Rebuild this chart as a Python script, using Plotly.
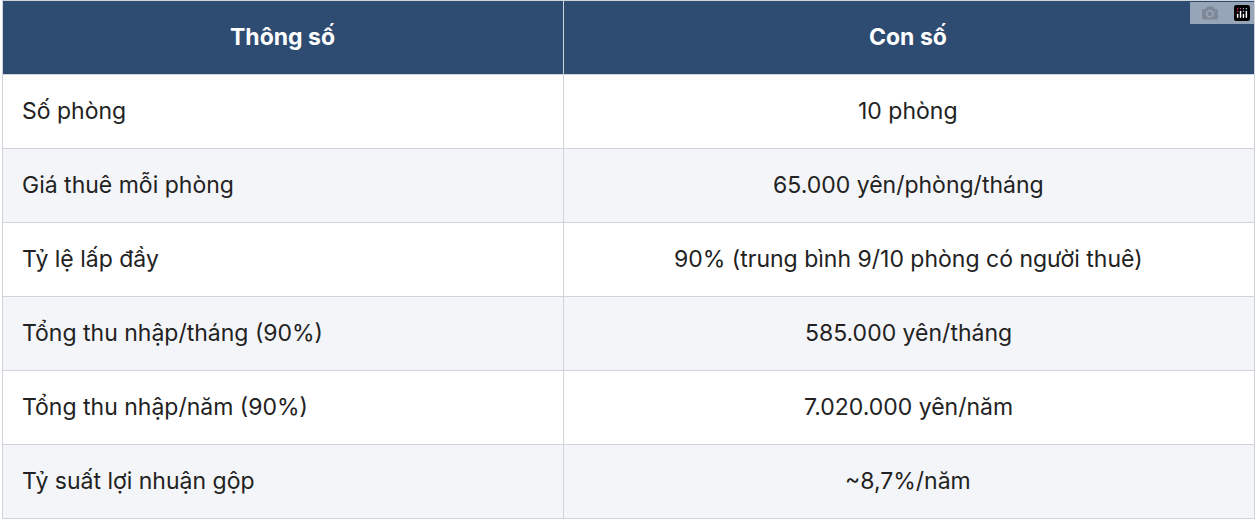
import plotly.graph_objects as go

headers = ["Thông số", "Con số"]
params = [
    "Số phòng",
    "Giá thuê mỗi phòng",
    "Tỷ lệ lấp đầy",
    "Tổng thu nhập/tháng (90%)",
    "Tổng thu nhập/năm (90%)",
    "Tỷ suất lợi nhuận gộp",
]
values = [
    "10 phòng",
    "65.000 yên/phòng/tháng",
    "90% (trung bình 9/10 phòng có người thuê)",
    "585.000 yên/tháng",
    "7.020.000 yên/năm",
    "~8,7%/năm",
]

W, H = 1256, 522
ROW_H = 74
COL_W = [561, 691]
FONT = "Inter, Noto Sans, sans-serif"

row_fill = ["#FFFFFF" if i % 2 == 0 else "#F4F5F8" for i in range(len(params))]

# table gives fills and borders; text goes on as annotations so it sits in the middle of each row
fig = go.Figure(go.Table(
    columnwidth=COL_W,
    header=dict(values=["", ""], fill_color="#2E4B72",
                line=dict(color="#D0D3D9", width=1), height=ROW_H),
    cells=dict(values=[[""] * len(params), [""] * len(values)],
               fill_color=[row_fill, row_fill],
               line=dict(color="#D0D3D9", width=1), height=ROW_H),
))

pw = W - 4
x_left = 18 / pw
x_mid = (COL_W[0] + COL_W[1] / 2) / pw


def row_y(i):
    return 1 - (ROW_H / 2 + ROW_H * i) / H


for j, h in enumerate(headers):
    fig.add_annotation(x=[COL_W[0] / 2 / pw, x_mid][j], y=row_y(0), text="<b>%s</b>" % h,
                       xref="paper", yref="paper", showarrow=False, xanchor="center", yanchor="middle",
                       font=dict(family=FONT, size=23, color="white"))

for i, (p, v) in enumerate(zip(params, values), start=1):
    fig.add_annotation(x=x_left, y=row_y(i), text=p, xref="paper", yref="paper", showarrow=False,
                       xanchor="left", yanchor="middle", font=dict(family=FONT, size=23, color="#222222"))
    fig.add_annotation(x=x_mid, y=row_y(i), text=v, xref="paper", yref="paper", showarrow=False,
                       xanchor="center", yanchor="middle", font=dict(family=FONT, size=23, color="#222222"))

fig.update_layout(width=W, height=H, margin=dict(l=2, r=2, t=0, b=0), paper_bgcolor="white")
fig.write_html("out.html", post_script="document.body.style.margin='0';")
